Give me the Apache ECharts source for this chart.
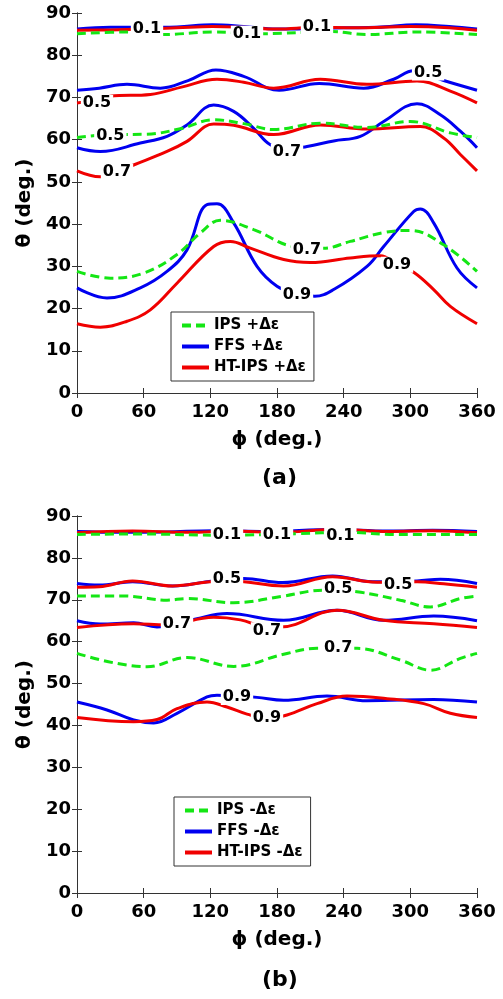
<!DOCTYPE html>
<html>
<head>
<meta charset="utf-8">
<script src="https://cdn.jsdelivr.net/npm/echarts@6/dist/echarts.min.js"></script>
<style>
  html, body { margin: 0; padding: 0; background: #fff; }
  #main { width: 503px; height: 999px; }
</style>
</head>
<body>
<div id="main"></div>
<script>
// axis ticks
var phiTicks = [0, 60, 120, 180, 240, 300, 360];
var thetaTicks = [0, 10, 20, 30, 40, 50, 60, 70, 80, 90];

// (a) +Δε  contours, [phi, theta]
var ipsA01 = [[0,85.1],[45,85.5],[78,84.9],[122,85.5],[165,85.1],[230,85.6],[260,84.9],[308,85.5],[360,84.9]];
var ipsA05 = [[0,60.5],[30,61.2],[63,61.3],[93,62.6],[123,64.7],[150,63.8],[177,62.4],[219,63.9],[261,62.9],[300,64.3],[336,61.6],[360,60.5]];
var ipsA07 = [[0,28.8],[30,27.2],[60,28.4],[90,32.8],[111,37.9],[129,40.9],[159,38.7],[195,34.7],[222,34.3],[246,35.9],[276,38.0],[300,38.5],[330,35.1],[360,28.8]];
var ffsA01 = [[0,86.2],[30,86.6],[60,86.6],[90,86.7],[122,87.2],[150,86.8],[180,86.2],[210,86.3],[240,86.5],[270,86.6],[305,87.2],[335,86.8],[360,86.2]];
var ffsA05 = [[0,71.7],[20,72.2],[45,73.1],[75,72.2],[100,74.0],[125,76.5],[150,75.0],[182,71.7],[218,73.3],[258,72.2],[285,74.3],[303,76.3],[330,74.0],[360,71.7]];
var ffsA07 = [[0,58.1],[21,57.2],[57,59.2],[81,60.8],[99,63.5],[123,68.2],[141,66.7],[159,62.7],[174,58.8],[190,57.8],[207,58.4],[231,59.7],[255,60.8],[276,64.3],[306,68.5],[327,65.9],[345,62.0],[360,58.1]];
var ffsA09 = [[0,24.9],[27,22.5],[57,24.9],[81,28.8],[99,33.9],[117,44.6],[126,44.8],[141,40.3],[162,30.0],[180,25.3],[198,23.5],[214,22.9],[231,24.5],[261,30.0],[276,34.7],[303,43.0],[309,43.6],[321,40.3],[342,29.6],[360,24.9]];
var htA01 = [[0,85.9],[30,86.0],[60,86.2],[90,86.5],[122,86.8],[150,86.6],[180,86.2],[215,86.6],[250,86.5],[300,86.8],[335,86.5],[360,85.9]];
var htA05 = [[0,68.7],[15,69.3],[30,70.3],[66,70.7],[95,72.5],[126,74.3],[150,73.6],[177,72.2],[219,74.3],[261,73.1],[306,73.9],[336,71.5],[360,68.7]];
var htA07 = [[0,52.6],[21,51.2],[36,52.4],[51,54.0],[81,57.2],[99,59.6],[123,63.7],[141,63.4],[177,61.2],[219,63.5],[261,62.5],[309,63.1],[330,60.4],[345,56.5],[360,52.6]];
var htA09 = [[0,16.4],[21,15.6],[45,17.0],[66,19.7],[90,26.0],[123,34.7],[138,35.9],[156,34.3],[186,31.6],[210,30.9],[246,32.0],[273,32.5],[288,30.5],[303,28.6],[321,24.5],[336,20.5],[360,16.4]];

// (b) -Δε contours
var ipsB01 = [[0,85.6],[60,85.7],[130,85.4],[200,85.8],[240,86.1],[290,85.6],[360,85.6]];
var ipsB05 = [[0,70.9],[42,70.9],[81,69.9],[99,70.3],[141,69.3],[186,70.9],[222,72.3],[252,71.9],[291,69.9],[318,68.3],[345,70.3],[360,70.9]];
var ipsB07 = [[0,57.2],[63,54.0],[99,56.2],[141,54.1],[186,57.0],[216,58.4],[252,58.4],[291,55.6],[318,53.2],[345,56.0],[360,57.2]];
var ffsB01 = [[0,86.3],[40,86.1],[80,86.2],[123,86.5],[170,86.3],[230,86.8],[280,86.4],[320,86.6],[360,86.3]];
var ffsB05 = [[0,73.9],[20,73.5],[50,74.3],[86,73.3],[122,74.5],[150,75.1],[185,74.1],[230,75.7],[266,74.3],[306,74.5],[327,74.9],[360,73.9]];
var ffsB07 = [[0,65.0],[21,64.2],[51,64.5],[72,63.5],[90,64.2],[108,65.5],[135,66.7],[186,65.1],[234,67.5],[276,65.1],[321,66.1],[360,65.0]];
var ffsB09 = [[0,45.6],[27,43.7],[51,41.3],[69,40.6],[90,42.9],[117,46.8],[126,47.2],[144,47.0],[162,46.7],[186,46.0],[225,47.0],[261,45.9],[321,46.2],[360,45.6]];
var htB01 = [[0,86.0],[50,86.4],[100,86.1],[140,86.4],[180,86.1],[235,86.8],[280,86.3],[320,86.5],[360,86.0]];
var htB05 = [[0,73.0],[20,73.1],[50,74.5],[86,73.3],[120,74.3],[140,74.5],[186,73.3],[230,75.5],[270,74.2],[306,74.3],[330,73.8],[360,73.0]];
var htB07 = [[0,63.4],[51,64.3],[80,64.0],[123,65.8],[147,65.2],[171,63.5],[183,63.5],[234,67.5],[276,65.1],[321,64.3],[360,63.4]];
var htB09 = [[0,41.9],[51,40.9],[72,41.4],[90,44.0],[117,45.6],[135,44.4],[153,42.7],[171,41.7],[189,42.5],[216,45.2],[243,47.0],[279,46.4],[312,45.2],[336,42.9],[360,41.9]];

// contour labels [phi, theta, text]
var labelsA = [[63,86.2,'0.1'],[153,85.1,'0.1'],[216,86.7,'0.1'],[316,75.9,'0.5'],[18,68.7,'0.5'],[30,60.8,'0.5'],
  [189,57.2,'0.7'],[36,52.4,'0.7'],[207,33.8,'0.7'],[198,23.3,'0.9'],[288,30.4,'0.9']];
var labelsB = [[135,85.5,'0.1'],[180,85.5,'0.1'],[237,85.2,'0.1'],[135,74.9,'0.5'],[289,73.5,'0.5'],[235,72.5,'0.5'],
  [90,64.2,'0.7'],[171,62.7,'0.7'],[235,58.6,'0.7'],[144,46.8,'0.9'],[171,41.7,'0.9']];

var namesA = ['IPS +Δε', 'FFS +Δε', 'HT-IPS +Δε'];
var namesB = ['IPS -Δε', 'FFS -Δε', 'HT-IPS -Δε'];

var GREEN = '#14e614', BLUE = '#0000f0', RED = '#f00000';
var FONT = 'DejaVu Sans';

var chart = echarts.init(document.getElementById('main'));

function contour(name, color, dashed, data, gi) {
    return {
        name: name, type: 'line', xAxisIndex: gi * 2, yAxisIndex: gi * 2,
        data: data, smooth: 0.4, symbol: 'none', silent: true, z: dashed ? 3 : 2,
        lineStyle: { color: color, width: 3, type: dashed ? [9, 5] : 'solid' },
        itemStyle: { color: color }
    };
}
// text labels sitting on the contours, white box cuts the line
function labelSeries(data, gi) {
    return {
        name: 'labels' + gi, type: 'scatter', xAxisIndex: gi * 2, yAxisIndex: gi * 2,
        data: data, symbolSize: 2, itemStyle: { color: 'rgba(255,255,255,0)', opacity: 1 }, z: 10, silent: true,
        label: {
            show: true, position: 'inside', formatter: function (p) { return p.value[2]; },
            color: '#000', opacity: 1, fontFamily: FONT, fontWeight: 'bold', fontSize: 16,
            backgroundColor: '#fff', padding: [0, 2]
        }
    };
}

var axisLbl = { color: '#000', fontFamily: FONT, fontWeight: 'bold', fontSize: 18 };
var xAxes = [], yAxes = [];
[0, 1].forEach(function (gi) {
    xAxes.push({
        type: 'value', gridIndex: gi, min: 0, max: 360, interval: 60, position: 'bottom',
        name: 'ϕ (deg.)', nameLocation: 'middle', nameGap: 37,
        nameTextStyle: { color: '#000', fontFamily: FONT, fontWeight: 'bold', fontSize: 20 },
        axisLine: { lineStyle: { color: '#333' } },
        axisTick: { inside: true, length: 5, lineStyle: { color: '#333' } },
        axisLabel: Object.assign({ margin: 10 }, axisLbl), splitLine: { show: false }
    });
    xAxes.push({
        type: 'value', gridIndex: gi, min: 0, max: 360, interval: 60, position: 'top',
        axisLine: { lineStyle: { color: '#333' } },
        axisTick: { inside: true, length: 5, lineStyle: { color: '#333' } },
        axisLabel: { show: false }, splitLine: { show: false }
    });
    yAxes.push({
        type: 'value', gridIndex: gi, min: 0, max: 90, interval: 10, position: 'left',
        name: 'θ (deg.)', nameLocation: 'middle', nameGap: 41, nameRotate: 90,
        nameTextStyle: { color: '#000', fontFamily: FONT, fontWeight: 'bold', fontSize: 20 },
        axisLine: { lineStyle: { color: '#333' } },
        axisTick: { inside: true, length: 5, lineStyle: { color: '#333' } },
        axisLabel: Object.assign({ margin: 6 }, axisLbl), splitLine: { show: false }
    });
    yAxes.push({
        type: 'value', gridIndex: gi, min: 0, max: 90, interval: 10, position: 'right',
        axisLine: { lineStyle: { color: '#333' } },
        axisTick: { inside: true, length: 5, lineStyle: { color: '#333' } },
        axisLabel: { show: false }, splitLine: { show: false }
    });
});

var series = [
    contour(namesA[0], GREEN, true, ipsA01, 0), contour(namesA[0], GREEN, true, ipsA05, 0), contour(namesA[0], GREEN, true, ipsA07, 0),
    contour(namesA[1], BLUE, false, ffsA01, 0), contour(namesA[1], BLUE, false, ffsA05, 0),
    contour(namesA[1], BLUE, false, ffsA07, 0), contour(namesA[1], BLUE, false, ffsA09, 0),
    contour(namesA[2], RED, false, htA01, 0), contour(namesA[2], RED, false, htA05, 0),
    contour(namesA[2], RED, false, htA07, 0), contour(namesA[2], RED, false, htA09, 0),
    contour(namesB[0], GREEN, true, ipsB01, 1), contour(namesB[0], GREEN, true, ipsB05, 1), contour(namesB[0], GREEN, true, ipsB07, 1),
    contour(namesB[1], BLUE, false, ffsB01, 1), contour(namesB[1], BLUE, false, ffsB05, 1),
    contour(namesB[1], BLUE, false, ffsB07, 1), contour(namesB[1], BLUE, false, ffsB09, 1),
    contour(namesB[2], RED, false, htB01, 1), contour(namesB[2], RED, false, htB05, 1),
    contour(namesB[2], RED, false, htB07, 1), contour(namesB[2], RED, false, htB09, 1),
    labelSeries(labelsA, 0), labelSeries(labelsB, 1)
];

var legendBase = {
    orient: 'vertical', backgroundColor: '#fff', borderColor: '#333', borderWidth: 1,
    itemWidth: 27, itemHeight: 14, itemGap: 6, padding: [6, 8, 6, 9],
    itemStyle: { opacity: 0 },
    lineStyle: { width: 4 },
    textStyle: { color: '#000', fontFamily: FONT, fontWeight: 'bold', fontSize: 15 },
    selectedMode: false
};

chart.setOption({
    animation: false,
    backgroundColor: '#fff',
    grid: [
        { left: 77, right: 26, top: 13, height: 380 },
        { left: 77, right: 26, top: 516, height: 377 }
    ],
    xAxis: xAxes,
    yAxis: yAxes,
    legend: [
        Object.assign({ data: namesA, left: 171, top: 312 }, legendBase),
        Object.assign({ data: namesB, left: 174, top: 797, itemGap: 4 }, legendBase)
    ],
    graphic: [
        { type: 'text', left: 262, top: 467, style: { text: '(a)', fill: '#000', font: 'bold 22px "DejaVu Sans"' } },
        { type: 'text', left: 262, top: 969, style: { text: '(b)', fill: '#000', font: 'bold 22px "DejaVu Sans"' } }
    ],
    series: series
});
</script>
</body>
</html>
